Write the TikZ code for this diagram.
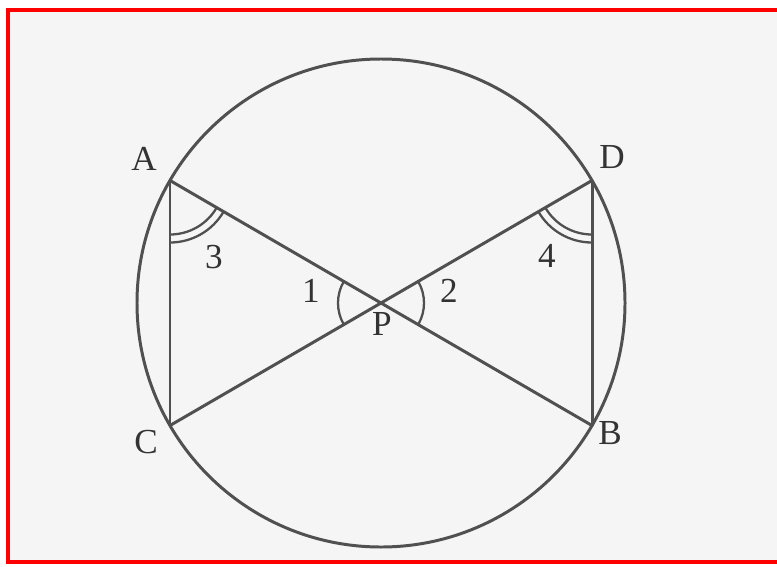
\documentclass[tikz,border=0pt]{standalone}
\usepackage{fontspec}
\setmainfont{Liberation Serif}
\usepackage{xcolor}
\usetikzlibrary{positioning}
\definecolor{inkgray}{HTML}{505050}
\definecolor{paper}{HTML}{F5F5F5}

\begin{document}
\begin{tikzpicture}[x=0.02cm, y=0.02cm,
  chord/.style={inkgray, line width=1.7pt},
  angarc/.style={inkgray, line width=1.3pt},
  lab/.style={font=\fontsize{20}{24}\selectfont, text=black!80}]
\useasboundingbox (0,0) rectangle (777,566);
\clip (0,0) rectangle (777,566);
% paper + red frame (right side runs off the page)
\fill[paper] (8,4) rectangle (790,556);
\draw[red, line width=1.8pt] (8,4) rectangle (790,556);
% centre and the four points on the circle
\coordinate (O) at (381,263);
\coordinate (A) at (170,385.5);
\coordinate (C) at (170,140.5);
\coordinate (D) at (592,385.5);
\coordinate (B) at (592,140.5);
\coordinate (P) at (381,263);
% circle and chords
\draw[chord] (O) circle (244);
\draw[chord] (A) -- (C);
\draw[chord] (D) -- (B);
\draw[chord] (A) -- (B);
\draw[chord] (C) -- (D);
% angle marks: double at A and D, single at P
\draw[angarc] (A) ++(-90:54) arc (-90:-30.1:54);
\draw[angarc] (A) ++(-90:62) arc (-90:-30.1:62);
\draw[angarc] (D) ++(210.1:54) arc (210.1:270:54);
\draw[angarc] (D) ++(210.1:62) arc (210.1:270:62);
\draw[angarc] (P) ++(149.9:43) arc (149.9:210.1:43);
\draw[angarc] (P) ++(30.1:43) arc (30.1:-30.1:43);
% labels
\node[lab] (labA) at (144,407) {A};
\node[lab] (labD) at (612,409) {D};
\node[lab] (labC) at (146,124) {C};
\node[lab] (labB) at (610,133) {B};
\node[lab] (labP) at (382,242) {P};
\node[lab] (ang1) at (311,275) {1};
\node[lab] (ang2) at (449,275) {2};
\node[lab] (ang3) at (214,309) {3};
\node[lab] (ang4) at (547,310) {4};
\end{tikzpicture}
\end{document}
